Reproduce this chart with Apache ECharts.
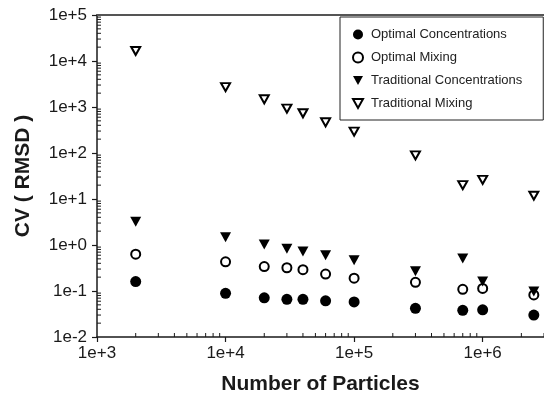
<!DOCTYPE html>
<html>
<head>
<meta charset="utf-8">
<script src="https://cdn.jsdelivr.net/npm/echarts@6/dist/echarts.min.js"></script>
<style>
html,body{margin:0;padding:0;background:#fff;}
#chart{width:544px;height:402px;}
</style>
</head>
<body>
<div id="chart"></div>
<script>
// ---- data ----
const particles = [2e3, 1e4, 2e4, 3e4, 4e4, 6e4, 1e5, 3e5, 7e5, 1e6, 2.5e6];
const optimalConcentrations = [0.16, 0.089, 0.071, 0.066, 0.066, 0.061, 0.058, 0.042, 0.038, 0.039, 0.030];
const optimalMixing = [0.63, 0.43, 0.34, 0.32, 0.29, 0.234, 0.19, 0.154, 0.109, 0.114, 0.082];
const traditionalConcentrations = [3.2, 1.47, 1.03, 0.83, 0.72, 0.60, 0.465, 0.268, 0.51, 0.16, 0.097];
const traditionalMixing = [16500, 2700, 1470, 920, 730, 465, 291, 89, 20, 26, 11.8];
const seriesNames = ['Optimal Concentrations', 'Optimal Mixing', 'Traditional Concentrations', 'Traditional Mixing'];
const xDecades = [1e3, 1e4, 1e5, 1e6];
const yDecades = [1e-2, 1e-1, 1e0, 1e1, 1e2, 1e3, 1e4];
const minorMultipliers = [2, 3, 4, 5, 6, 7, 8, 9];
const xMin = 1e3, xMax = 3e6, yMin = 1e-2, yMax = 1e5;

function fmtExp(v) {
  const e = Math.round(Math.log10(v));
  if (Math.abs(Math.log10(v) - e) > 1e-6) return '';
  return '1e' + (e < 0 ? '-' + (-e) : '+' + e);
}
function pairs(ys) { return particles.map((x, i) => [x, ys[i]]); }

const xMinorVals = [];
xDecades.forEach(d => minorMultipliers.forEach(m => { if (d * m <= xMax) xMinorVals.push([d * m, yMin]); }));
const yMinorVals = [];
yDecades.forEach(d => minorMultipliers.forEach(m => { if (d * m < yMax) yMinorVals.push([xMin, d * m]); }));

const font = 'Liberation Sans, Arial, sans-serif';
const downTri = 'path://M0,0 L10,0 L5,9 Z';
const chart = echarts.init(document.getElementById('chart'), null, {renderer: 'canvas'});

const axisCommon = {
  type: 'log',
  logBase: 10,
  axisLine: {show: true, lineStyle: {color: '#1a1a1a', width: 1.5}},
  axisTick: {show: true, inside: false, length: 5, lineStyle: {color: '#1a1a1a', width: 1.2}},
  splitLine: {show: false},
  minorTick: {show: false},
  axisLabel: {fontFamily: font, fontSize: 17, color: '#1a1a1a', formatter: fmtExp, showMaxLabel: false},
  nameTextStyle: {fontFamily: font, fontSize: 21, fontWeight: 'bold', color: '#1a1a1a'}
};

function tickRenderer(dir) {
  return function (params, api) {
    const p = api.coord([api.value(0), api.value(1)]);
    const shape = dir === 'x'
      ? {x1: p[0], y1: p[1], x2: p[0], y2: p[1] - 4}
      : {x1: p[0], y1: p[1], x2: p[0] + 4, y2: p[1]};
    return {type: 'line', shape: shape, style: {stroke: '#1a1a1a', lineWidth: 1}};
  };
}

const markerBase = {type: 'scatter', xAxisIndex: 0, yAxisIndex: 0, z: 5};

chart.setOption({
  animation: false,
  backgroundColor: '#fff',
  grid: {left: 97, top: 15, right: 0, bottom: 65, show: false},
  xAxis: [
    Object.assign({}, axisCommon, {
      min: xMin, max: xMax, position: 'bottom',
      name: 'Number of Particles', nameLocation: 'middle', nameGap: 37,
      axisLabel: Object.assign({}, axisCommon.axisLabel, {margin: 8})
    }),
    {
      type: 'log', min: xMin, max: xMax, position: 'top',
      axisLine: {show: true, lineStyle: {color: '#555', width: 2}},
      axisTick: {show: false}, axisLabel: {show: false}, splitLine: {show: false}
    }
  ],
  yAxis: [
    Object.assign({}, axisCommon, {
      min: yMin, max: yMax,
      name: 'CV ( RMSD )', nameLocation: 'middle', nameGap: 63,
      axisLabel: Object.assign({}, axisCommon.axisLabel, {margin: 10, showMaxLabel: true})
    })
  ],
  legend: {
    data: [
      {name: seriesNames[0], icon: 'circle'},
      {name: seriesNames[1], icon: 'circle'},
      {name: seriesNames[2], icon: downTri},
      {name: seriesNames[3], icon: downTri}
    ],
    orient: 'vertical',
    left: 340, top: 17,
    padding: [11, 21, 10, 12],
    itemWidth: 10, itemHeight: 10, itemGap: 10,
    backgroundColor: '#fff',
    borderColor: '#222', borderWidth: 1,
    textStyle: {fontFamily: font, fontSize: 13, color: '#222', padding: [0, 0, 0, 3]}
  },
  series: [
    Object.assign({}, markerBase, {
      name: seriesNames[0], data: pairs(optimalConcentrations),
      symbol: 'circle', symbolSize: 11,
      itemStyle: {color: '#000', borderColor: '#000', borderWidth: 0, opacity: 1}
    }),
    Object.assign({}, markerBase, {
      name: seriesNames[1], data: pairs(optimalMixing),
      symbol: 'circle', symbolSize: 9,
      itemStyle: {color: '#fff', borderColor: '#000', borderWidth: 2, opacity: 1}
    }),
    Object.assign({}, markerBase, {
      name: seriesNames[2], data: pairs(traditionalConcentrations),
      symbol: 'triangle', symbolSize: [11, 10], symbolRotate: 180,
      itemStyle: {color: '#000', borderColor: '#000', borderWidth: 0, opacity: 1}
    }),
    Object.assign({}, markerBase, {
      name: seriesNames[3], data: pairs(traditionalMixing),
      symbol: 'triangle', symbolSize: [9, 8], symbolRotate: 180,
      itemStyle: {color: '#fff', borderColor: '#000', borderWidth: 2, opacity: 1}
    }),
    {
      type: 'custom', name: 'xMinor', data: xMinorVals, renderItem: tickRenderer('x'),
      silent: true, z: 3, xAxisIndex: 0, yAxisIndex: 0
    },
    {
      type: 'custom', name: 'yMinor', data: yMinorVals, renderItem: tickRenderer('y'),
      silent: true, z: 3, xAxisIndex: 0, yAxisIndex: 0
    }
  ]
});
</script>
</body>
</html>
